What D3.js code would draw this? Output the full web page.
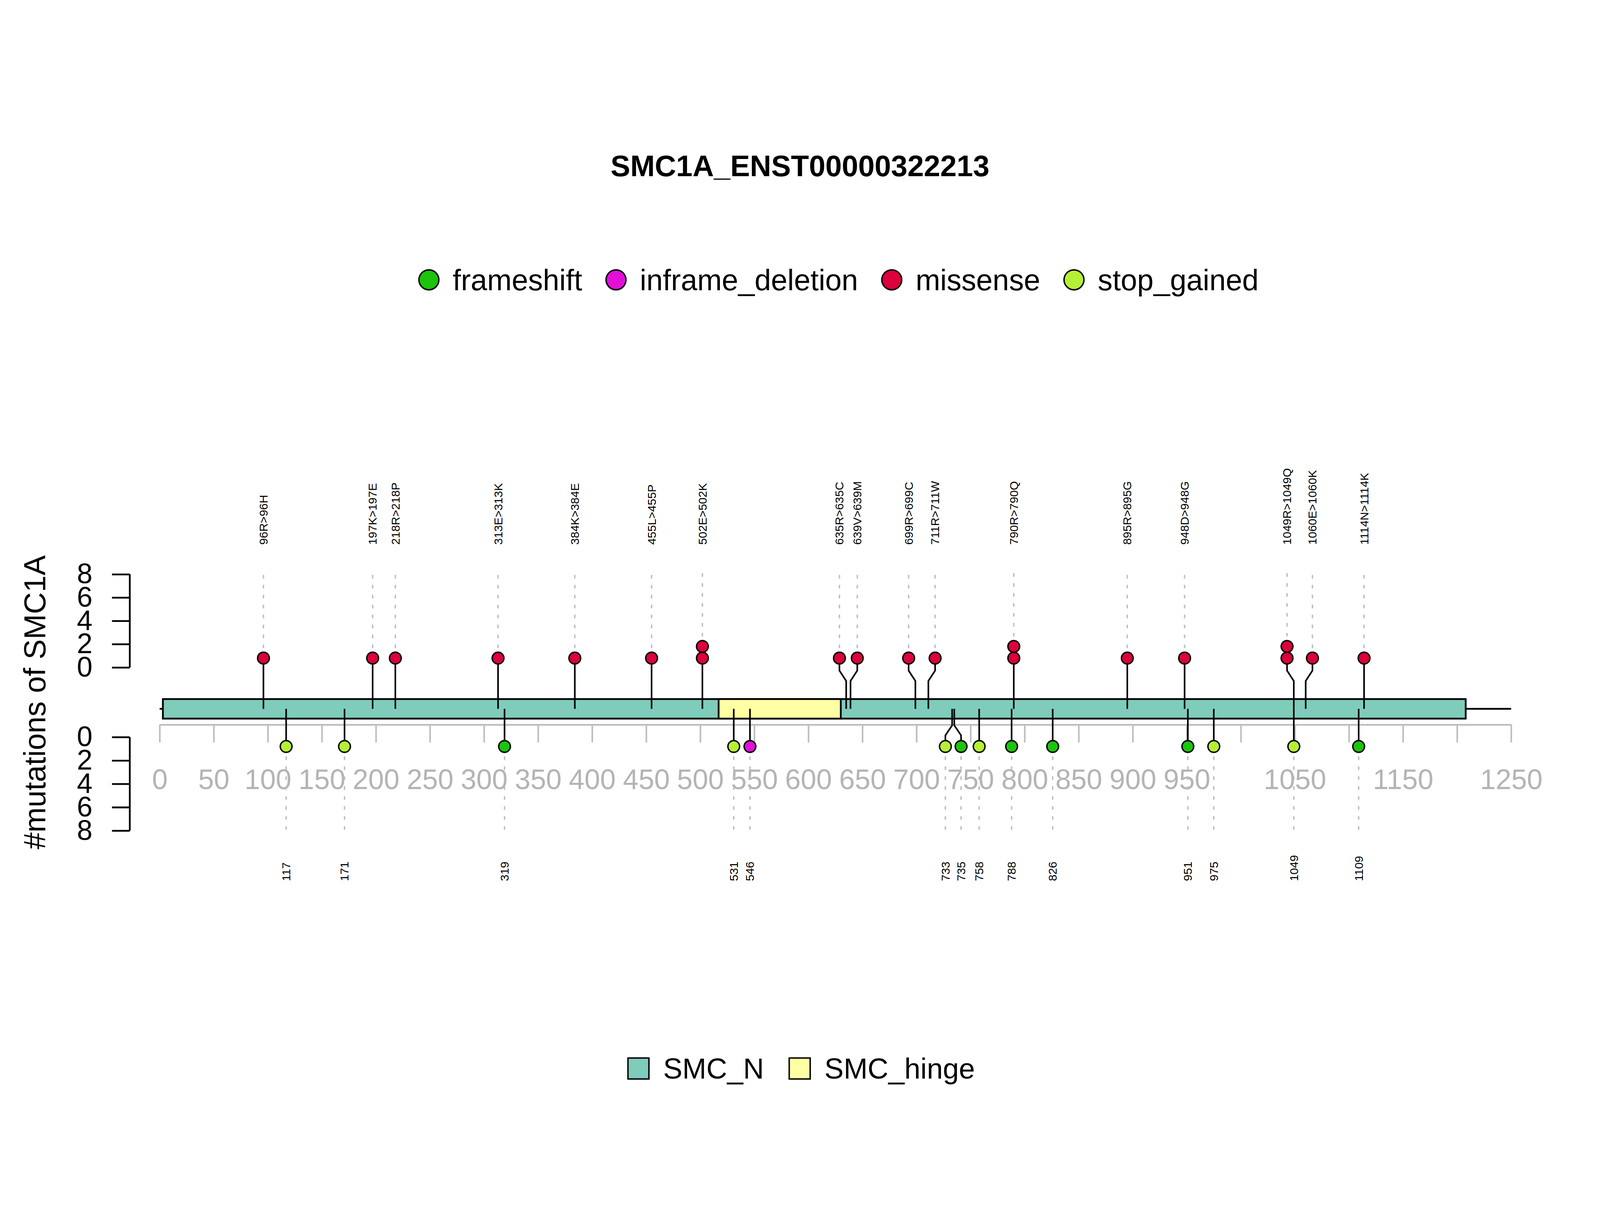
<!DOCTYPE html>
<html>
<head>
<meta charset="utf-8">
<script src="https://cdn.jsdelivr.net/npm/d3@7"></script>
<style>
  html, body { margin: 0; padding: 0; background: #fff; overflow: hidden; }
  svg { display: block; font-family: "Liberation Sans", Arial, Helvetica, sans-serif; }
</style>
</head>
<body>
<svg id="chart"></svg>
<script>
// ---- data ----
const title = "SMC1A_ENST00000322213";
const yTitle = "#mutations of SMC1A";

const typeNames = ["frameshift", "inframe_deletion", "missense", "stop_gained"];
const typeColors = ["#1CC40B", "#E10FD8", "#DC003C", "#B5F035"];

const domainNames = ["SMC_N", "SMC_hinge"];
const domainStart = [3, 517];
const domainEnd = [1208, 630];
const domainColors = ["#7FCCBB", "#FFFFA3"];

// upper track (missense)
const upPos = [96, 197, 218, 313, 384, 455, 502, 635, 639, 699, 711, 790, 895, 948, 1049, 1060, 1114];
const upCount = [1, 1, 1, 1, 1, 1, 2, 1, 1, 1, 1, 2, 1, 1, 2, 1, 1];
const upLabel = ["96R>96H", "197K>197E", "218R>218P", "313E>313K", "384K>384E", "455L>455P", "502E>502K",
  "635R>635C", "639V>639M", "699R>699C", "711R>711W", "790R>790Q", "895R>895G", "948D>948G",
  "1049R>1049Q", "1060E>1060K", "1114N>1114K"];

// lower track
const lowPos = [117, 171, 319, 531, 546, 733, 735, 758, 788, 826, 951, 975, 1049, 1109];
const lowCount = [1, 1, 1, 1, 1, 1, 1, 1, 1, 1, 1, 1, 1, 1];
const lowType = ["stop_gained", "stop_gained", "frameshift", "stop_gained", "inframe_deletion", "stop_gained",
  "frameshift", "stop_gained", "frameshift", "frameshift", "frameshift", "stop_gained", "stop_gained", "frameshift"];

const xTicks = d3.range(0, 1251, 50);
const yTicks = [0, 2, 4, 6, 8];

// ---- layout ----
const width = 4500, height = 3100;
const vw = window.innerWidth;
const svg = d3.select("#chart")
  .attr("viewBox", `0 0 ${width} ${height}`)
  .attr("preserveAspectRatio", "xMinYMin meet")
  .style("width", vw + "px")
  .style("height", (vw * height / width) + "px");
svg.append("rect").attr("width", width).attr("height", height).attr("fill", "#fff");

const x = d3.scaleLinear().domain([0, 1250]).range([449, 4250]);
const yUp = d3.scaleLinear().domain([0, 8]).range([1877, 1615]);
const yLow = d3.scaleLinear().domain([0, 8]).range([2073, 2336]);
const color = d3.scaleOrdinal().domain(typeNames).range(typeColors);

const barTop = 1966, barBottom = 2021, barMid = (barTop + barBottom) / 2;
const axisY = 2038;
const gray = "#BEBEBE";
const r = 16.5;

// title
svg.append("text").attr("x", 2250).attr("y", 495).attr("text-anchor", "middle")
  .attr("font-size", 83).attr("font-weight", "bold").text(title);

// top legend (mutation types)
const leg = svg.append("g");
let lx = 0;
typeNames.forEach(t => {
  leg.append("circle").attr("cx", lx).attr("cy", 0).attr("r", 28)
    .attr("fill", color(t)).attr("stroke", "#000").attr("stroke-width", 4);
  const tx = leg.append("text").attr("x", lx + 67).attr("y", 0).attr("dy", "0.35em")
    .attr("font-size", 83).text(t);
  lx += 67 + tx.node().getComputedTextLength() + 95;
});
{
  const bb = leg.node().getBBox();
  leg.attr("transform", `translate(${2359 - bb.x - bb.width / 2},787)`);
}

// y-axis title
svg.append("text").attr("transform", `translate(98,1975) rotate(-90)`)
  .attr("text-anchor", "middle").attr("dominant-baseline", "central")
  .attr("font-size", 85).text(yTitle);

// y axes (upper and lower)
const axUp = svg.append("g").attr("transform", "translate(365,0)")
  .call(d3.axisLeft(yUp).tickValues(yTicks).tickSize(50).tickPadding(55));
const axLow = svg.append("g").attr("transform", "translate(365,0)")
  .call(d3.axisLeft(yLow).tickValues(yTicks).tickSize(50).tickPadding(55));
[axUp, axLow].forEach(ax => {
  ax.select(".domain").attr("stroke", "#000").attr("stroke-width", 5);
  ax.selectAll(".tick line").attr("stroke", "#000").attr("stroke-width", 5);
  ax.selectAll(".tick text").attr("font-size", 79).attr("fill", "#000")
    .attr("font-family", "'Liberation Sans', Arial, sans-serif");
});
axUp.select(".domain").attr("d", `M0,${yUp(8)}V${yUp(0)}`);
axLow.select(".domain").attr("d", `M0,${yLow(0)}V${yLow(8)}`);

// protein backbone
svg.append("line").attr("x1", x(0)).attr("x2", x(1250)).attr("y1", barMid).attr("y2", barMid)
  .attr("stroke", "#000").attr("stroke-width", 5);

// domains
domainNames.forEach((d, i) => {
  svg.append("rect").attr("x", x(domainStart[i])).attr("y", barTop)
    .attr("width", x(domainEnd[i]) - x(domainStart[i])).attr("height", barBottom - barTop)
    .attr("fill", domainColors[i]).attr("stroke", "#000").attr("stroke-width", 5);
});

// x axis (gray)
const xAx = svg.append("g").attr("transform", `translate(0,${axisY})`)
  .call(d3.axisBottom(x).tickValues(xTicks).tickFormat(d3.format("d"))
    .tickSize(50).tickSizeOuter(0));
xAx.select(".domain").attr("stroke", gray).attr("stroke-width", 5);
xAx.selectAll(".tick line").attr("stroke", gray).attr("stroke-width", 4.5);
xAx.selectAll(".tick text").attr("font-size", 79).attr("fill", "#B4B4B4")
  .attr("font-family", "'Liberation Sans', Arial, sans-serif").attr("dy", "0.71em").attr("y", 125);
// drop labels that would overlap the previous one (like base R axis)
{
  let lastRight = -Infinity;
  xAx.selectAll(".tick").each(function (d) {
    const t = d3.select(this).select("text");
    const w = t.node().getComputedTextLength();
    const left = x(d) - w / 2;
    if (left < lastRight + 4) t.remove();
    else lastRight = x(d) + w / 2;
  });
}

// spread close lollipops apart
function spread(pos) {
  const px = pos.map(p => x(p));
  const shift = pos.map(() => 0);
  const order = d3.range(pos.length).sort((a, b) => px[a] - px[b]);
  for (let k = 0; k < order.length - 1; k++) {
    const a = order[k], b = order[k + 1];
    if (px[b] - px[a] < 42) { shift[a] -= 19; shift[b] += 19; }
  }
  return px.map((v, i) => v + shift[i]);
}

function lollipops(pos, counts, fills, labels, side) {
  const up = side === "up";
  const ys = up ? yUp : yLow;
  const cx = spread(pos);
  const g = svg.append("g");
  pos.forEach((p, i) => {
    const xs = x(p), xc = cx[i];
    const cTop = ys(counts[i] - 0.2);
    const pts = xs === xc
      ? [[xs, barMid], [xc, ys(0.8)]]
      : up ? [[xs, barMid], [xs, 1915], [xc, 1886], [xc, ys(0.8)]]
           : [[xs, barMid], [xs, 2040], [xc, 2068], [xc, ys(0.8)]];
    g.append("line").attr("x1", xc).attr("x2", xc)
      .attr("y1", cTop).attr("y2", up ? 1600 : 2350)
      .attr("stroke", gray).attr("stroke-width", 4).attr("stroke-dasharray", "10,18");
    g.append("path").attr("d", d3.line()(pts)).attr("fill", "none")
      .attr("stroke", "#000").attr("stroke-width", 4.5);
    for (let k = 1; k <= counts[i]; k++) {
      g.append("circle").attr("cx", xc).attr("cy", ys(k - 0.2)).attr("r", r)
        .attr("fill", fills[i]).attr("stroke", "#000").attr("stroke-width", 4);
    }
    g.append("text").attr("transform", `translate(${xc},${up ? 1532 : 2478}) rotate(-90)`)
      .attr("dominant-baseline", "central").attr("font-size", 33).text(labels[i]);
  });
}

lollipops(upPos, upCount, upPos.map(() => color("missense")), upLabel, "up");
lollipops(lowPos, lowCount, lowType.map(t => color(t)), lowPos.map(String), "low");

// bottom legend (domains)
const leg2 = svg.append("g");
let lx2 = 0;
domainNames.forEach((d, i) => {
  leg2.append("rect").attr("x", lx2).attr("y", -29.5).attr("width", 59).attr("height", 59)
    .attr("fill", domainColors[i]).attr("stroke", "#000").attr("stroke-width", 4);
  const tx = leg2.append("text").attr("x", lx2 + 99).attr("y", 0).attr("dy", "0.35em")
    .attr("font-size", 81).text(d);
  lx2 += 99 + tx.node().getComputedTextLength() + 71;
});
{
  const bb = leg2.node().getBBox();
  leg2.attr("transform", `translate(${2254 - bb.x - bb.width / 2},3005)`);
}
</script>
</body>
</html>
